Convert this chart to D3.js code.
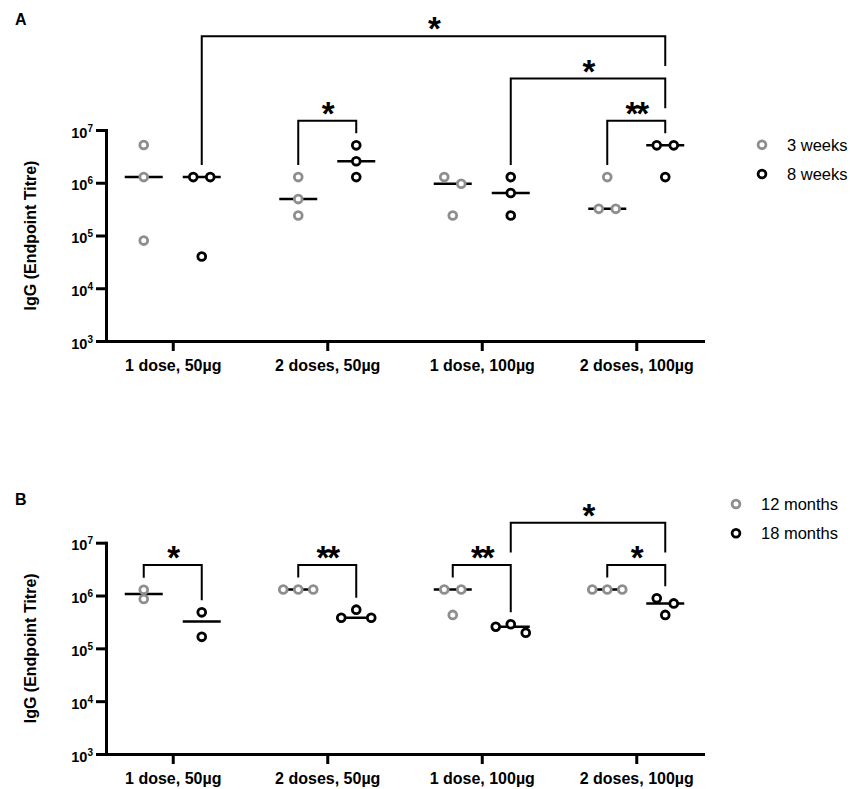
<!DOCTYPE html>
<html lang="en">
<head>
<meta charset="UTF-8">
<title>IgG endpoint titres</title>
<script src="https://cdnjs.cloudflare.com/ajax/libs/d3/7.8.5/d3.min.js"></script>
<style>
  body { margin: 0; background: #fff; }
  svg { display: block; font-family: "Liberation Sans", Arial, sans-serif; }
</style>
</head>
<body>
<div id="chart"></div>
<script>
// groups on the x axis
const categories = ["1 dose, 50µg", "2 doses, 50µg", "1 dose, 100µg", "2 doses, 100µg"];
const tickValues = [1e3, 1e4, 1e5, 1e6, 1e7];

// panel A: endpoint titres, one array per group
const seriesA = ["3 weeks", "8 weeks"];
const weeks3 = [[5.2e6, 1.28e6, 8e4], [1.28e6, 4.9e5, 2.4e5], [1.28e6, 9.6e5, 2.4e5], [1.28e6, 3.2e5, 3.2e5]];
const weeks8 = [[1.28e6, 1.28e6, 4e4], [5.12e6, 2.56e6, 1.28e6], [1.28e6, 6.4e5, 2.4e5], [5.12e6, 5.12e6, 1.28e6]];

// panel B
const seriesB = ["12 months", "18 months"];
const months12 = [[1.28e6, 8.6e5], [1.3e6, 1.3e6, 1.3e6], [1.3e6, 1.3e6, 4.3e5], [1.3e6, 1.3e6, 1.3e6]];
const months18 = [[4.8e5, 1.65e5], [5.4e5, 3.8e5, 3.8e5], [2.85e5, 2.57e5, 1.97e5], [8.9e5, 7.1e5, 4.3e5]];

// significance comparisons: [category, series] pairs
const compsA = [
  {a: [1, 0], b: [1, 1], label: "*", level: 0},
  {a: [3, 0], b: [3, 1], label: "**", level: 0},
  {a: [2, 1], b: [3, 1], label: "*", level: 1},
  {a: [0, 1], b: [3, 1], label: "*", level: 2}
];
const compsB = [
  {a: [0, 0], b: [0, 1], label: "*", level: 0},
  {a: [1, 0], b: [1, 1], label: "**", level: 0},
  {a: [2, 0], b: [2, 1], label: "**", level: 0},
  {a: [3, 0], b: [3, 1], label: "*", level: 0},
  {a: [2, 1], b: [3, 1], label: "*", level: 1}
];

const width = 850, height = 789;
const grey = "#8e8e8e";
const colors = [grey, "#000"];
const starSize = 33;

const svg = d3.select("#chart").append("svg")
  .attr("width", width)
  .attr("height", height);

const x = d3.scalePoint().domain(categories).range([106, 703]).padding(0.432);
const sub = d3.scalePoint().domain([0, 1]).range([-29, 29]);

// spread points that sit on top of each other, like a column scatter
function spread(vals, y) {
  const pts = vals.map(v => ({v, py: y(v)})).sort((a, b) => a.py - b.py);
  const clusters = [];
  pts.forEach(p => {
    const last = clusters[clusters.length - 1];
    if (last && p.py - last[last.length - 1].py < 8.8) last.push(p);
    else clusters.push([p]);
  });
  clusters.forEach(c => {
    const order = c.length === 3 ? [c[1], c[0], c[2]] : c;
    const step = c.length === 2 ? 17 : 15;
    order.forEach((p, i) => p.dx = (i - (c.length - 1) / 2) * step);
  });
  return pts;
}

function drawPanel(opt) {
  const y = d3.scaleLog().domain([1e3, 1e7]).range([opt.bottom, opt.top]);
  const g = svg.append("g");
  const data = opt.data;

  // panel letter
  g.append("text")
    .attr("x", 15).attr("y", opt.letterY)
    .attr("font-size", 16).attr("font-weight", "bold")
    .text(opt.letter);

  // y axis
  const yAxis = g.append("g")
    .attr("transform", `translate(${x.range()[0]},0)`)
    .call(d3.axisLeft(y).tickValues(tickValues).tickSize(10).tickSizeOuter(0).tickPadding(3));
  yAxis.selectAll(".tick text").each(function(d) {
    const t = d3.select(this).text(null)
      .attr("dy", null).attr("y", 7)
      .attr("font-size", 14.5).attr("font-weight", "bold").attr("fill", "#000");
    t.append("tspan").text("10");
    t.append("tspan").attr("dy", -6).attr("font-size", 10).text(Math.round(Math.log10(d)));
  });

  // x axis
  const xAxis = g.append("g")
    .attr("transform", `translate(0,${opt.bottom})`)
    .call(d3.axisBottom(x).tickSize(10).tickSizeOuter(0));
  xAxis.selectAll(".tick text")
    .attr("y", 30).attr("dy", null)
    .attr("font-size", 16).attr("font-weight", "bold").attr("fill", "#000");

  [yAxis, xAxis].forEach(a => {
    a.select(".domain").attr("stroke-width", 3).attr("stroke-linecap", "square");
    a.selectAll(".tick line").attr("stroke-width", 3);
  });

  // axis title
  g.append("text")
    .attr("transform", `translate(36,${(opt.top + opt.bottom) / 2}) rotate(-90)`)
    .attr("text-anchor", "middle")
    .attr("font-size", 16).attr("font-weight", "bold")
    .text("IgG (Endpoint Titre)");

  // brackets
  const gx = (ci, si) => x(categories[ci]) + sub(si);
  const groupTop = (ci, si) => d3.min(data[si][ci], v => y(v));
  const comps = opt.comps;
  const base = d3.min(comps, c => Math.min(groupTop(...c.a), groupTop(...c.b))) - 24.5;
  comps.forEach(c => c.hy = base - 42.3 * c.level);
  const same = (p, q) => p[0] === q[0] && p[1] === q[1];
  function legEnd(c, grp) {
    let end = groupTop(...grp) - 12;
    comps.forEach(o => {
      if (o.level < c.level && (same(o.a, grp) || same(o.b, grp))) end = Math.min(end, o.hy - 12.5);
    });
    return end;
  }
  const br = g.append("g");
  br.selectAll("path").data(comps).join("path")
    .attr("fill", "none").attr("stroke", "#000").attr("stroke-width", 2)
    .attr("d", c => `M${gx(...c.a)},${legEnd(c, c.a)}V${c.hy}H${gx(...c.b)}V${legEnd(c, c.b)}`);
  br.selectAll("text").data(comps).join("text")
    .attr("x", c => (gx(...c.a) + gx(...c.b)) / 2)
    .attr("y", c => c.hy - 14.5 + 0.56 * starSize)
    .attr("text-anchor", "middle")
    .attr("font-size", starSize).attr("font-weight", "bold")
    .attr("letter-spacing", -2)
    .text(c => c.label);

  // medians and points
  data.forEach((series, si) => {
    series.forEach((vals, ci) => {
      const cx = gx(ci, si);
      g.append("line")
        .attr("x1", cx - 19).attr("x2", cx + 19)
        .attr("y1", y(d3.median(vals))).attr("y2", y(d3.median(vals)))
        .attr("stroke", "#000").attr("stroke-width", 2.5);
      g.append("g").selectAll("circle").data(spread(vals, y)).join("circle")
        .attr("cx", p => cx + p.dx).attr("cy", p => p.py)
        .attr("r", 3.9)
        .attr("fill", "#fff").attr("stroke", colors[si]).attr("stroke-width", 2.8);
    });
  });

  // legend
  const lg = g.append("g").selectAll("g").data(opt.series).join("g")
    .attr("transform", (d, i) => `translate(${opt.legendX},${opt.legendY + i * 29.3})`);
  lg.append("circle").attr("r", 3.9)
    .attr("fill", "#fff").attr("stroke", (d, i) => colors[i]).attr("stroke-width", 2.8);
  lg.append("text").attr("x", 25).attr("y", 6)
    .attr("font-size", 16.5)
    .text(d => d);
}

drawPanel({letter: "A", letterY: 25, top: 130, bottom: 341, data: [weeks3, weeks8],
  comps: compsA, series: seriesA, legendX: 762, legendY: 144.7});
drawPanel({letter: "B", letterY: 505, top: 542.7, bottom: 754, data: [months12, months18],
  comps: compsB, series: seriesB, legendX: 736, legendY: 504});
</script>
</body>
</html>
